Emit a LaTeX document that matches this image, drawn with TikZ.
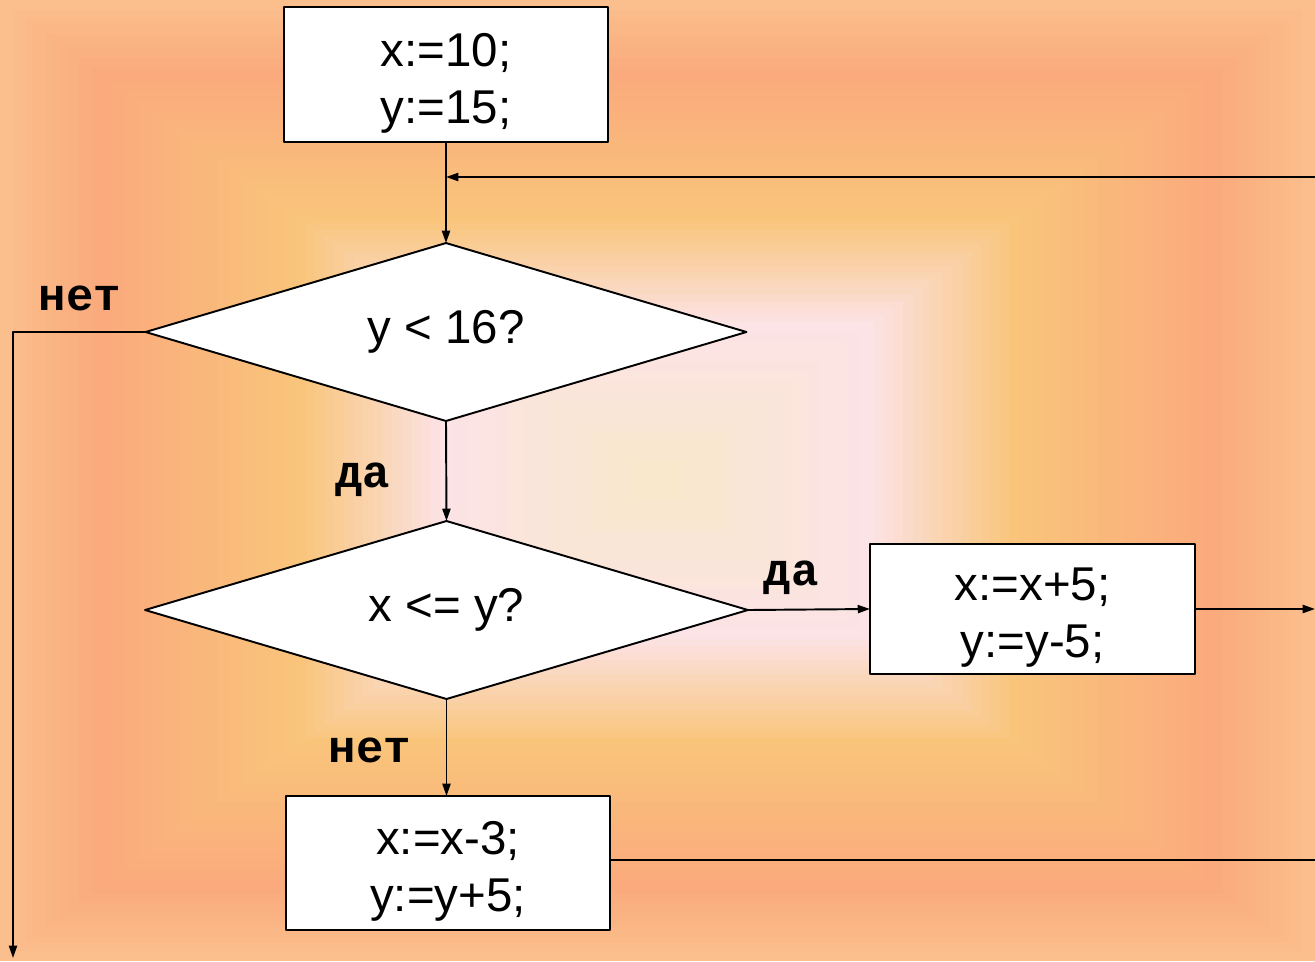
\documentclass[tikz,border=0pt]{standalone}
\usepackage{fontspec}
\setmainfont{Liberation Sans}
\newfontfamily\labelfont{Liberation Mono}
\usetikzlibrary{arrows.meta,shapes.geometric}
\definecolor{bgedge}{HTML}{FBBF8D}
\definecolor{bgsalmon}{HTML}{FAAA7C}
\definecolor{bgyellow}{HTML}{F9C57B}
\definecolor{bgpink}{HTML}{FBE3E6}
\definecolor{bgcore}{HTML}{FAE8CB}

\begin{document}
\begin{tikzpicture}[x=0.02cm,y=-0.02cm,line width=1.1pt,line join=round,>={Triangle[length=7pt,width=4.6pt]},
  box/.style={draw,fill=white,inner sep=0pt,outer sep=0pt,align=center,text height=61pt,font={\fontsize{27}{32.5}\selectfont}},
  cond/.style={diamond,shape aspect=3.4,draw,fill=white,inner sep=0pt,outer sep=0pt,font={\fontsize{27}{32}\selectfont}},
  lbl/.style={font={\labelfont\bfseries\fontsize{26}{26}\selectfont}}]
  \useasboundingbox (0,0) rectangle (1315,961);
  % background: rectangular gradient towards the middle
  \foreach \ta/\tb/\ca/\cb in {1/0.85/bgedge/bgsalmon,0.85/0.55/bgsalmon/bgyellow,0.55/0.33/bgyellow/bgpink,0.33/0.02/bgpink/bgcore}{
    \foreach \k in {0,...,14}{
      \pgfmathsetmacro{\t}{\ta-(\ta-\tb)*\k/15}
      \pgfmathsetmacro{\p}{100-100*\k/15}
      \fill[\ca!\p!\cb] ({657.5-\t*657.5},{480.5-\t*480.5}) rectangle ({657.5+\t*657.5},{480.5+\t*480.5});
    }
  }
  % blocks
  \node[box,minimum width=6.48cm,minimum height=2.7cm] (init) at (446,74.5) {x:=10;\\y:=15;};
  \node[cond,minimum width=12.02cm,minimum height=3.56cm] (ycheck) at (446,332) {y < 16?};
  \node[cond,minimum width=12.06cm,minimum height=3.56cm] (xcheck) at (446.5,610) {x <= y?};
  \node[box,minimum width=6.5cm,minimum height=2.6cm] (incx) at (1032.5,609) {x:=x+5;\\y:=y-5;};
  \node[box,minimum width=6.48cm,minimum height=2.68cm] (decx) at (448,863) {x:=x-3;\\y:=y+5;};
  % free ends
  \coordinate (join) at (446,177);
  \coordinate (backin) at (1315,177);
  \coordinate (exit) at (13,958);
  \coordinate (out1) at (1315,609);
  \coordinate (out2) at (1315,860);
  % connectors
  \draw[->] (init.south) -- (ycheck.north);
  \draw[->] (backin) -- (join);
  \draw[->] (ycheck.west) -| (exit);
  \draw[->] (ycheck.south) -- (xcheck.north);
  \draw[->] (xcheck.east) -- (incx.west);
  \draw[->] (xcheck.south) -- (xcheck.south |- decx.north);
  \draw[->] (incx.east) -- (out1);
  \draw (decx.east |- out2) -- (out2);
  % labels
  \node[lbl] (no1) at (80,298) {нет};
  \node[lbl] (yes1) at (363,480) {да};
  \node[lbl] (yes2) at (791,578) {да};
  \node[lbl] (no2) at (370,750) {нет};
\end{tikzpicture}
\end{document}
